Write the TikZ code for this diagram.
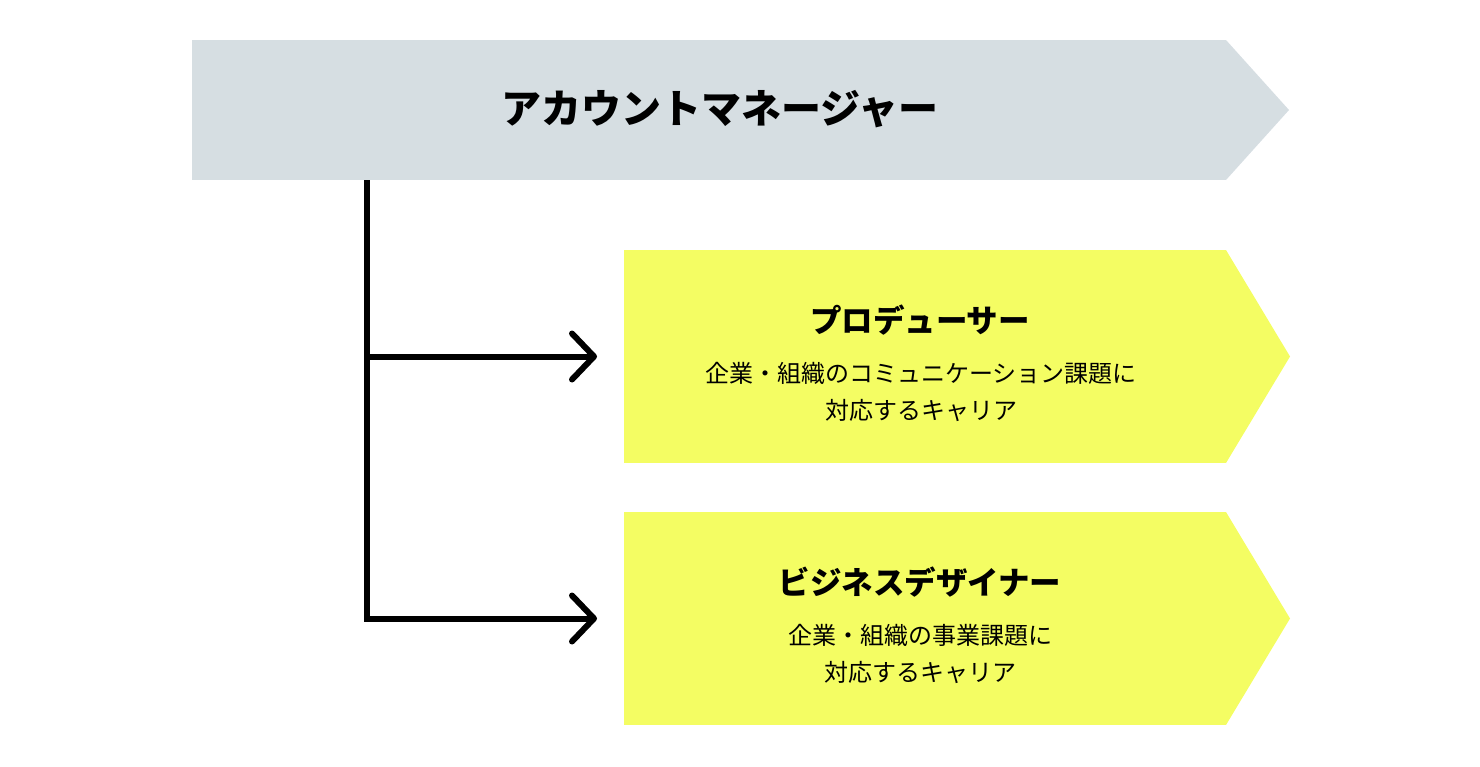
\documentclass[tikz,border=0pt]{standalone}
\usepackage{fontspec}
\usepackage{tikz}
\usetikzlibrary{arrows.meta,calc}
\setmainfont{Noto Sans CJK JP}
\definecolor{amgray}{RGB}{214,222,226}
\definecolor{roleyellow}{RGB}{244,253,99}
\tikzset{
  panel/.style={inner sep=0pt, outer sep=0pt, minimum width=602pt, minimum height=213pt, fill=roleyellow},
  role/.style={font=\fontsize{31.5}{36}\selectfont\bfseries},
  desc/.style={font=\fontsize{24}{37}\selectfont, align=center},
  link/.style={line width=6pt, -{Straight Barb[length=22pt,width=46pt,round]}, shorten >=27pt}
}
\begin{document}
\begin{tikzpicture}[x=1pt,y=-1pt]
\useasboundingbox (0,0) rectangle (1480,766);
% top banner
\node[panel, fill=amgray, minimum width=1034pt, minimum height=140pt, anchor=north west] (am) at (192,40) {};
\fill[amgray] (am.north east) -- ($(am.east)+(63,0)$) -- (am.south east) -- cycle;
\node[font=\fontsize{40}{46}\selectfont\bfseries] (amtext) at (720,109) {アカウントマネージャー};
% role panels
\foreach \n/\y in {prod/250, bd/512}{
  \node[panel, anchor=north west] (\n) at (624,\y) {};
  \fill[roleyellow] (\n.north east) -- ($(\n.east)+(64,0)$) -- (\n.south east) -- cycle;
}
\node[role] (prodtitle) at (920,320) {プロデューサー};
\node[desc] (proddesc) at (921,392) {企業・組織のコミュニケーション課題に\\対応するキャリア};
\node[role] (bdtitle) at (920,582) {ビジネスデザイナー};
\node[desc] (bddesc) at (920,654) {企業・組織の事業課題に\\対応するキャリア};
% connectors
\coordinate (trunk) at ($(am.south west)+(175,0)$);
\draw[link] (trunk) |- (bd.west);
\draw[link] (trunk |- prod.west) -- (prod.west);
\end{tikzpicture}
\end{document}
